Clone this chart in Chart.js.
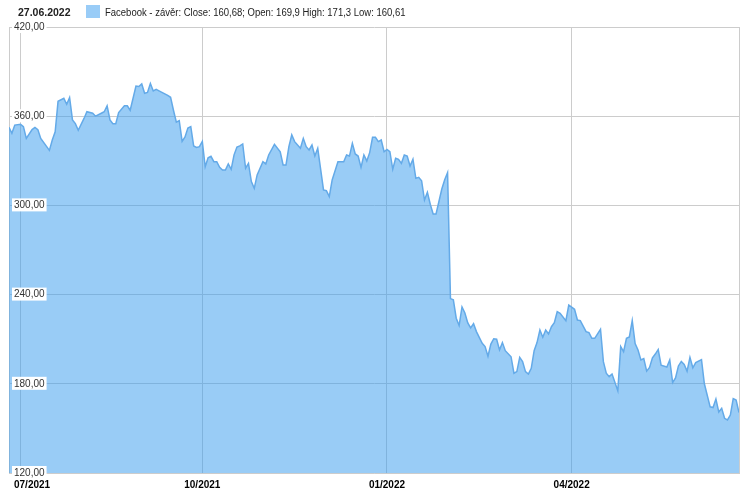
<!DOCTYPE html>
<html>
<head>
<meta charset="utf-8">
<script src="https://cdn.jsdelivr.net/npm/chart.js@4"></script>
<style>
  html, body { margin: 0; padding: 0; background: #fff; }
  #wrap { position: relative; width: 748px; height: 495px; font-family: "Liberation Sans", Arial, sans-serif; }
  #chart { position: absolute; left: 0; top: 0; }
  .hdr { position: absolute; top: 6px; line-height: 13px; color: #222; white-space: nowrap; transform-origin: 0 50%; }
  #date { left: 18px; font-weight: bold; font-size: 10.5px; }
  #swatch { position: absolute; left: 86px; top: 5px; width: 14px; height: 13px; background: rgb(153,204,247); }
  #legend { left: 105px; font-size: 10px; transform: scaleX(0.95); }
</style>
</head>
<body>
<div id="wrap">
  <canvas id="chart" width="748" height="495"></canvas>
  <div class="hdr" id="date">27.06.2022</div>
  <div id="swatch"></div>
  <div class="hdr" id="legend">Facebook - závěr: Close: 160,68; Open: 169,9 High: 171,3 Low: 160,61</div>
</div>
<script>
// trading day index (0 = 25.06.2021) and close price
const dayIdx = [
  0, 1, 2, 4, 5, 6, 8, 9, 10, 11, 14, 15, 16, 17, 19, 20, 21, 22, 23, 24,
  26, 27, 29, 30, 32, 33, 34, 35, 36, 37, 38, 40, 41, 42, 44, 45, 46, 47, 48, 49,
  50, 51, 52, 53, 55, 56, 57, 58, 59, 60, 61, 62, 63, 64, 65, 66, 67, 68, 69, 70,
  71, 72, 73, 74, 75, 76, 77, 78, 79, 80, 81, 82, 83, 84, 85, 86, 88, 89, 90, 92,
  94, 95, 96, 97, 98, 99, 101, 102, 103, 104, 105, 106, 107, 109, 110, 111, 112, 114, 116, 117,
  118, 119, 120, 121, 122, 123, 124, 125, 126, 127, 128, 129, 130, 131, 132, 133, 134, 135, 136, 137,
  138, 139, 140, 141, 142, 143, 144, 145, 146, 147, 148, 150, 151, 152, 153, 154, 155, 156, 157, 158,
  159, 160, 161, 162, 164, 165, 166, 167, 168, 169, 170, 171, 172, 174, 175, 176, 177, 178, 179, 180,
  181, 182, 183, 184, 185, 186, 187, 188, 189, 190, 191, 193, 194, 196, 197, 198, 200, 201, 202, 203,
  205, 206, 207, 208, 209, 211, 212, 213, 214, 215, 216, 217, 218, 219, 220, 221, 222, 223, 224, 225,
  226, 228, 229, 230, 231, 232, 233, 234, 235, 236, 237, 238, 240, 241, 243, 244, 245, 246, 247, 248,
  249, 250, 251, 252, 253
];
const close = [
  352.5, 348.5, 354, 354.5, 353, 345, 351, 352.5, 351, 345, 337, 344, 349.5, 370, 372, 368, 372.5, 357.5, 355, 350.5,
  358.5, 363, 362, 360, 362, 363, 367, 357.5, 355, 355, 362.5, 367, 367, 364, 380.3, 380, 381.7, 375.4, 376, 382,
  377, 378, 377, 376, 374, 372.7, 364, 356, 357, 343, 346, 352, 353, 340, 339, 339.5, 343, 326, 332, 333,
  329.4, 329.4, 325.6, 323.8, 323.8, 327.9, 324.3, 334, 339.3, 340, 341.3, 325, 328.3, 316, 311.5, 320.5, 329.4, 327.9, 333.9, 341.1,
  336.1, 327.2, 327.2, 339.5, 347.4, 342.9, 338.4, 345.1, 339.5, 337.3, 340.6, 333.2, 338.4, 310.4, 309.9, 305.9, 317.1, 329.4, 329.4, 333.9,
  333.2, 341.8, 334.6, 333.2, 325.6, 333.9, 329.9, 335.5, 345.8, 345.8, 342.9, 344, 336.1, 337.7, 336.1, 324.3, 331.7, 331, 328.3, 333.9,
  333.2, 326.5, 331, 318.2, 318.9, 316.6, 303.6, 308.8, 300.8, 294.2, 294.2, 311, 317.3, 322, 237.3, 236.5, 224.1, 219.2, 231.7, 227.6,
  221, 217.6, 220.4, 215.1, 207.3, 205, 198.5, 206.7, 210.3, 210, 202.8, 207.7, 202.3, 198.2, 187.1, 188.2, 197.8, 194.9, 188.2, 186.6,
  190.4, 202.3, 207.7, 216.2, 211.3, 216.2, 213.5, 218.4, 221.1, 228.5, 227.4, 222.5, 233, 230.1, 222.9, 222.5, 215.1, 214.4, 210.6, 210.6,
  216.7, 194.9, 187.1, 184.8, 186.6, 175.3, 205, 201.6, 210.6, 211.5, 222.5, 207, 202.7, 196, 197, 188.5, 191, 197.5, 200, 203,
  192.5, 191.3, 196, 180.8, 184, 192, 195, 193, 188.5, 197.8, 190.8, 194.3, 196.3, 180, 164.5, 164, 169.8, 161, 163.5, 156.8,
  155.7, 159, 170, 169.1, 160.68
];

// quarter ticks and their labels
const tickIdx = [4, 67, 131, 195];
const tickLabels = ['07/2021', '10/2021', '01/2022', '04/2022'];
const yMin = 120, yMax = 420, yStep = 60;

const points = dayIdx.map((d, i) => ({ x: d, y: close[i] }));

const FONT = '"Liberation Sans", Arial, sans-serif';
const GRID = '#cccccc';

// x labels centred under the gridlines, kept inside the canvas
const xLabels = {
  id: 'xLabels',
  afterDraw(chart) {
    const ctx = chart.ctx, xs = chart.scales.x, area = chart.chartArea;
    ctx.save();
    ctx.font = 'bold 10px ' + FONT;
    ctx.fillStyle = '#000';
    ctx.textBaseline = 'middle';
    ctx.textAlign = 'center';
    tickIdx.forEach((v, i) => {
      const w = ctx.measureText(tickLabels[i]).width;
      let x = xs.getPixelForValue(v);
      x = Math.max(x, area.left + 5 + w / 2);
      ctx.fillText(tickLabels[i], x, area.bottom + 12);
    });
    ctx.restore();
  }
};

// right hand frame line
const rightBorder = {
  id: 'rightBorder',
  beforeDatasetsDraw(chart) {
    const ctx = chart.ctx, a = chart.chartArea;
    ctx.save();
    ctx.strokeStyle = GRID;
    ctx.lineWidth = 1;
    ctx.beginPath();
    ctx.moveTo(a.right + 0.5, a.top);
    ctx.lineTo(a.right + 0.5, a.bottom);
    ctx.stroke();
    ctx.restore();
  }
};

new Chart(document.getElementById('chart'), {
  type: 'line',
  data: {
    datasets: [{
      label: 'Facebook - závěr',
      data: points,
      fill: 'start',
      backgroundColor: 'rgba(51,153,238,0.5)',
      borderColor: 'rgb(100,170,232)',
      borderWidth: 1.5,
      pointRadius: 0,
      tension: 0
    }]
  },
  options: {
    responsive: false,
    animation: false,
    events: [],
    layout: { padding: { left: 9, right: 9, top: 27, bottom: 22 } },
    plugins: { legend: { display: false }, tooltip: { enabled: false } },
    scales: {
      x: {
        type: 'linear',
        min: dayIdx[0],
        max: dayIdx[dayIdx.length - 1],
        afterBuildTicks: s => { s.ticks = tickIdx.map(v => ({ value: v })); },
        afterFit: s => { s.height = 0; },
        ticks: { display: false },
        grid: { color: GRID, drawTicks: false },
        border: { color: GRID }
      },
      y: {
        min: yMin,
        max: yMax,
        afterFit: s => { s.width = 0; },
        ticks: {
          stepSize: yStep,
          mirror: true,
          padding: 5,
          z: 1,
          color: '#333',
          font: { family: FONT, size: 10 },
          showLabelBackdrop: true,
          backdropColor: '#fff',
          backdropPadding: { left: 2, right: 2, top: 1, bottom: 0 },
          callback: v => v.toFixed(2).replace('.', ',')
        },
        grid: { color: GRID, drawTicks: false },
        border: { color: GRID }
      }
    }
  },
  plugins: [xLabels, rightBorder]
});
</script>
</body>
</html>
